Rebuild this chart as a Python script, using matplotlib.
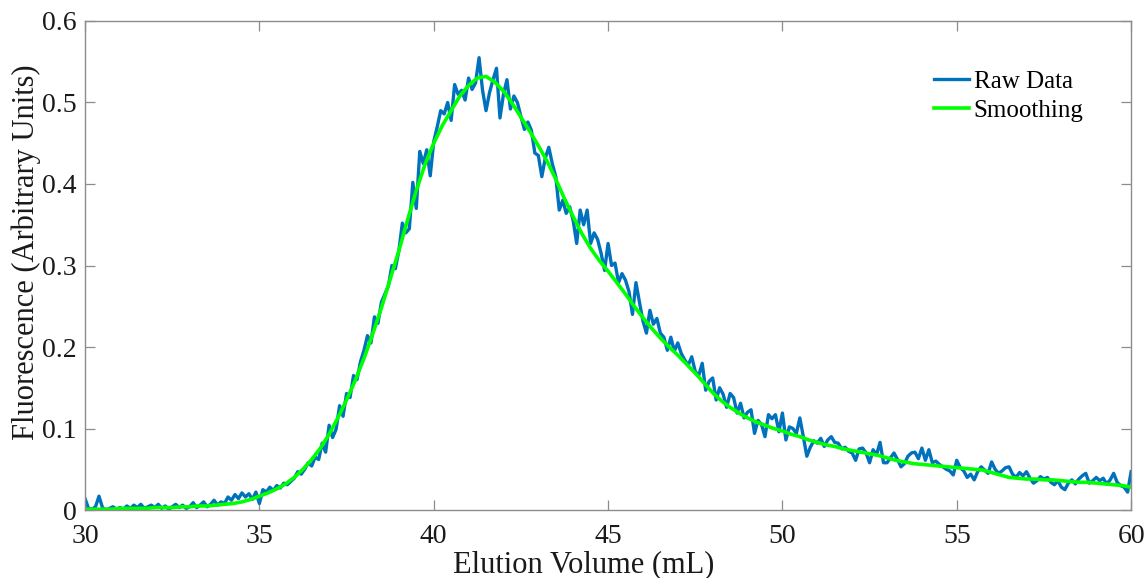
# imports
import matplotlib.pyplot as plt
import numpy as np

# raw fluorescence readings, one value every 0.1 mL from 30 to 60 mL
raw_start, raw_step = 30.0, 0.1
raw_values = [
    0.014, 0.002, 0.001, 0.004, 0.017, 0.003, 0.000, 0.002, 0.004, 0.001,
    0.003, 0.001, 0.005, 0.002, 0.006, 0.003, 0.007, 0.002, 0.004, 0.006,
    0.003, 0.007, 0.002, 0.005, 0.001, 0.004, 0.007, 0.003, 0.006, 0.002,
    0.004, 0.009, 0.003, 0.006, 0.010, 0.004, 0.007, 0.012, 0.006, 0.010,
    0.008, 0.016, 0.012, 0.019, 0.014, 0.021, 0.016, 0.020, 0.013, 0.022,
    0.008, 0.025, 0.022, 0.028, 0.024, 0.030, 0.027, 0.033, 0.031, 0.035,
    0.039, 0.047, 0.044, 0.050, 0.058, 0.054, 0.065, 0.062, 0.082, 0.071,
    0.104, 0.089, 0.099, 0.128, 0.115, 0.143, 0.138, 0.165, 0.160, 0.182,
    0.196, 0.214, 0.205, 0.237, 0.229, 0.255, 0.265, 0.275, 0.300, 0.296,
    0.318, 0.352, 0.340, 0.345, 0.402, 0.370, 0.440, 0.425, 0.442, 0.410,
    0.452, 0.470, 0.490, 0.486, 0.500, 0.478, 0.522, 0.510, 0.515, 0.503,
    0.530, 0.516, 0.524, 0.555, 0.515, 0.490, 0.512, 0.528, 0.542, 0.481,
    0.510, 0.528, 0.492, 0.508, 0.500, 0.483, 0.467, 0.476, 0.466, 0.438,
    0.435, 0.409, 0.432, 0.445, 0.425, 0.409, 0.368, 0.380, 0.364, 0.372,
    0.355, 0.327, 0.368, 0.350, 0.368, 0.327, 0.340, 0.332, 0.315, 0.294,
    0.327, 0.300, 0.303, 0.279, 0.290, 0.282, 0.268, 0.240, 0.279, 0.255,
    0.232, 0.217, 0.245, 0.228, 0.235, 0.217, 0.212, 0.196, 0.212, 0.195,
    0.205, 0.192, 0.184, 0.178, 0.188, 0.170, 0.165, 0.180, 0.147, 0.158,
    0.162, 0.135, 0.150, 0.142, 0.126, 0.143, 0.138, 0.119, 0.131, 0.113,
    0.120, 0.123, 0.094, 0.110, 0.105, 0.090, 0.117, 0.112, 0.117, 0.096,
    0.119, 0.086, 0.102, 0.100, 0.094, 0.113, 0.090, 0.066, 0.077, 0.085,
    0.082, 0.088, 0.078, 0.086, 0.090, 0.083, 0.082, 0.075, 0.077, 0.072,
    0.070, 0.061, 0.075, 0.076, 0.070, 0.058, 0.074, 0.068, 0.083, 0.058,
    0.058, 0.064, 0.070, 0.062, 0.053, 0.057, 0.066, 0.070, 0.071, 0.063,
    0.076, 0.061, 0.074, 0.058, 0.060, 0.056, 0.053, 0.050, 0.048, 0.043,
    0.061, 0.052, 0.048, 0.040, 0.044, 0.037, 0.047, 0.053, 0.049, 0.045,
    0.059, 0.050, 0.045, 0.048, 0.052, 0.053, 0.044, 0.040, 0.046, 0.042,
    0.047, 0.039, 0.033, 0.036, 0.041, 0.038, 0.040, 0.034, 0.031, 0.036,
    0.028, 0.025, 0.033, 0.037, 0.032, 0.038, 0.042, 0.045, 0.033, 0.036,
    0.040, 0.036, 0.039, 0.032, 0.037, 0.045, 0.034, 0.030, 0.028, 0.022,
    0.047,
]

# smoothed curve, one value every 0.25 mL from 30 to 60 mL
smooth_start, smooth_step = 30.0, 0.25
smooth_values = [
    0.001, 0.001, 0.001, 0.001, 0.002, 0.002, 0.002, 0.002,
    0.003, 0.003, 0.003, 0.004, 0.004, 0.005, 0.005, 0.006,
    0.007, 0.008, 0.010, 0.013, 0.017, 0.021, 0.026, 0.032,
    0.040, 0.050, 0.062, 0.076, 0.093, 0.113, 0.135, 0.159,
    0.186, 0.216, 0.248, 0.283, 0.318, 0.356, 0.392, 0.424,
    0.450, 0.472, 0.490, 0.508, 0.521, 0.530, 0.532, 0.525,
    0.514, 0.499, 0.482, 0.465, 0.447, 0.428, 0.406, 0.382,
    0.360, 0.339, 0.321, 0.306, 0.293, 0.279, 0.265, 0.250,
    0.236, 0.223, 0.211, 0.200, 0.190, 0.179, 0.168, 0.156,
    0.144, 0.134, 0.126, 0.119, 0.113, 0.108, 0.104, 0.100,
    0.097, 0.093, 0.090, 0.086, 0.083, 0.080, 0.078, 0.075,
    0.073, 0.071, 0.069, 0.067, 0.064, 0.061, 0.059, 0.057,
    0.056, 0.055, 0.054, 0.053, 0.052, 0.051, 0.050, 0.049,
    0.046, 0.043, 0.040, 0.039, 0.038, 0.038, 0.037, 0.037,
    0.036, 0.035, 0.034, 0.034, 0.033, 0.032, 0.031, 0.030,
    0.028,
]

x_ticks = [30, 35, 40, 45, 50, 55, 60]
y_ticks = [0, 0.1, 0.2, 0.3, 0.4, 0.5, 0.6]
y_tick_labels = ['0', '0.1', '0.2', '0.3', '0.4', '0.5', '0.6']

# x positions for each series
raw_x = raw_start + raw_step * np.arange(len(raw_values))
smooth_x = smooth_start + smooth_step * np.arange(len(smooth_values))

plt.rcParams['font.family'] = ['Liberation Serif', 'DejaVu Serif']

fig = plt.figure(figsize=(11.46, 5.78), dpi=100)
ax = fig.add_axes([0.0742, 0.1176, 0.9128, 0.8461])

ax.plot(raw_x, raw_values, color='#0072BD', linewidth=2.4, label='Raw Data')
ax.plot(smooth_x, smooth_values, color='#00FF00', linewidth=2.6, label='Smoothing')

ax.set_xlim(30, 60)
ax.set_ylim(0, 0.6)
ax.set_xticks(x_ticks)
ax.set_yticks(y_ticks)
ax.set_yticklabels(y_tick_labels)

# matlab style box with ticks on all four sides
for side in ax.spines.values():
    side.set_color('#8c8c8c')
    side.set_linewidth(1.0)
ax.tick_params(direction='in', length=7, width=0.9, color='#8c8c8c',
               top=True, right=True, labelsize=20, labelcolor='#1a1a1a')
ax.tick_params(axis='x', pad=10)
ax.tick_params(axis='y', pad=6)

ax.set_xlabel('Elution Volume (mL)', fontsize=22, color='#1a1a1a', labelpad=1)
ax.set_ylabel('Fluorescence (Arbitrary Units)', fontsize=22, color='#1a1a1a', labelpad=1)
# labels in the original sit a little off centre
ax.xaxis.label.set_x(0.477)
ax.yaxis.label.set_y(0.528)

ax.legend(loc='upper right', frameon=False, fontsize=18, handlelength=1.4,
          handletextpad=0.2, labelspacing=0.25, bbox_to_anchor=(0.976, 0.945))

fig.savefig('out.png', dpi=100)
